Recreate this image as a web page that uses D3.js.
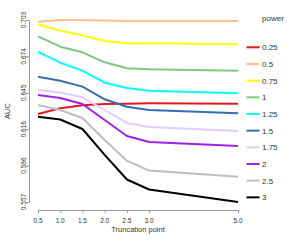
<!DOCTYPE html>
<html><head><meta charset="utf-8">
<script src="https://cdn.jsdelivr.net/npm/d3@7"></script>
<style>body{margin:0;background:#fff}svg{display:block;font-family:"Liberation Sans",Arial,sans-serif}</style>
</head><body><svg id="c" width="300" height="240"></svg>
<script>
const truncation = [0.5, 1.0, 1.5, 2.0, 2.5, 3.0, 5.0];
const xTickLabels = ["0.5","1.0","1.5","2.0","2.5","3.0","5.0"];
const yTickValues = [0.5573, 0.58646, 0.61562, 0.64478, 0.67394, 0.7031];
const yTickLabels = ["0.557","0.586","0.616","0.645","0.674","0.703"];
const powers = ["0.25","0.5","0.75","1","1.25","1.5","1.75","2","2.5","3"];
const colors = ["#e41a1c","#fdc086","#ffff00","#7fc97f","#00ffff","#386cb0","#e0ccff","#a020f0","#bebebe","#000000"];
const auc_025 = [0.6278,0.6324,0.6348,0.6358,0.6361,0.6364,0.6361];
const auc_05  = [0.7017,0.7031,0.7030,0.7027,0.7023,0.7023,0.7023];
const auc_075 = [0.6997,0.6945,0.6908,0.6863,0.6844,0.6844,0.6836];
const auc_1   = [0.6900,0.6817,0.6772,0.6692,0.6644,0.6636,0.6625];
const auc_125 = [0.6775,0.6689,0.6625,0.6529,0.6486,0.6465,0.6444];
const auc_15  = [0.6577,0.6545,0.6497,0.6396,0.6336,0.6310,0.6284];
const auc_175 = [0.6470,0.6450,0.6412,0.6310,0.6206,0.6174,0.6142];
const auc_2   = [0.6430,0.6406,0.6358,0.6230,0.6102,0.6054,0.6022];
const auc_25  = [0.6350,0.6310,0.6246,0.6070,0.5904,0.5825,0.5776];
const auc_3   = [0.6256,0.6234,0.6158,0.5950,0.5753,0.5673,0.5573];
const series = [auc_025,auc_05,auc_075,auc_1,auc_125,auc_15,auc_175,auc_2,auc_25,auc_3];

const svg = d3.select("#c");
const x = d3.scaleLinear().domain([0.5,5.0]).range([38,238]);
const y = d3.scaleLinear().domain([0.5573,0.7031]).range([202,20]);

// lines (draw in order)
const line = d3.line().x((d,i)=>x(truncation[i])).y(d=>y(d));
series.forEach((s,k)=>{
  svg.append("path").datum(s).attr("d",line).attr("fill","none")
    .attr("stroke",colors[k]).attr("stroke-width",2).attr("stroke-linejoin","round");
});

// y axis
const ya = svg.append("g").attr("transform","translate(29,0)")
  .call(d3.axisLeft(y).tickValues(yTickValues).tickSize(3).tickSizeOuter(0).tickFormat(""));
ya.selectAll("path,line").attr("stroke","#999");
yTickValues.forEach((v,i)=>{
  svg.append("text").attr("transform",`translate(25.5,${y(v)}) rotate(-90)`)
    .attr("text-anchor","middle").attr("font-size",6.5).attr("fill","#333").text(yTickLabels[i]);
});
// x axis
const xa = svg.append("g").attr("transform","translate(0,210)")
  .call(d3.axisBottom(x).tickValues(truncation).tickSize(3).tickSizeOuter(0).tickFormat(""));
xa.selectAll("path,line").attr("stroke","#999");
truncation.forEach((v,i)=>{
  svg.append("text").attr("x",x(v)).attr("y",222.5).attr("text-anchor","middle")
    .attr("font-size",6.5).attr("fill","#333").text(xTickLabels[i]);
});
svg.append("text").attr("x",138).attr("y",232).attr("text-anchor","middle")
  .attr("font-size",7.5).attr("fill","#333").text("Truncation point");
svg.append("text").attr("transform","translate(10,111) rotate(-90)").attr("text-anchor","middle")
  .attr("font-size",7.5).attr("fill","#333").text("AUC");

// legend
svg.append("text").attr("x",262).attr("y",21).attr("font-size",8).attr("fill","#333").text("power");
powers.forEach((p,i)=>{
  const yy = 47.3 + i*16.67;
  svg.append("line").attr("x1",246.5).attr("x2",259.5).attr("y1",yy).attr("y2",yy)
    .attr("stroke",colors[i]).attr("stroke-width",2);
  svg.append("text").attr("x",262).attr("y",yy+3).attr("font-size",8).attr("fill","#333").text(p);
});
</script></body></html>
